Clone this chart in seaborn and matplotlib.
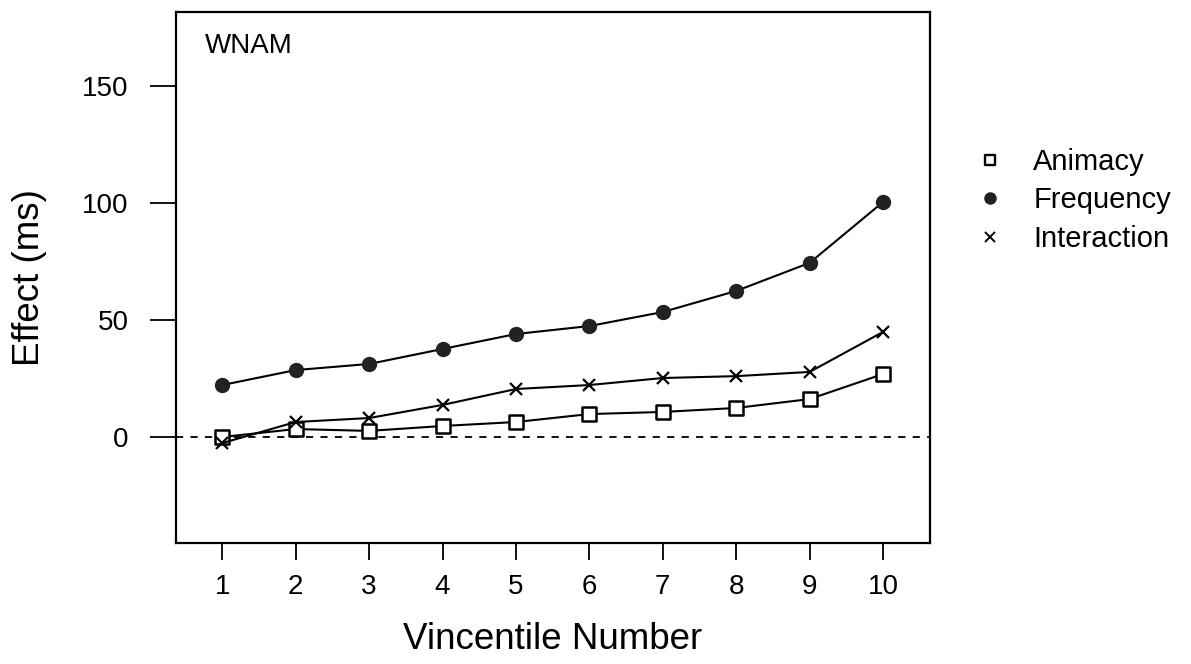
import numpy as np
import pandas as pd
import matplotlib
matplotlib.use("Agg")
import matplotlib.pyplot as plt
import seaborn as sns
from matplotlib.lines import Line2D
from matplotlib.markers import MarkerStyle

vincentiles = [1, 2, 3, 4, 5, 6, 7, 8, 9, 10]
animacy = [0.0, 3.4, 2.6, 4.7, 6.4, 9.8, 10.7, 12.4, 16.2, 26.9]
frequency = [22.2, 28.6, 31.2, 37.6, 44.0, 47.4, 53.4, 62.4, 74.4, 100.4]
interaction = [-2.6, 6.4, 8.1, 13.7, 20.5, 22.2, 25.2, 26.0, 27.8, 44.9]
series_names = ["Animacy", "Frequency", "Interaction"]
y_ticks = [0, 50, 100, 150]

sns.set_theme(style="ticks")
plt.rcParams["font.family"] = ["Liberation Sans", "DejaVu Sans"]
plt.rcParams["text.color"] = "black"
plt.rcParams["axes.labelcolor"] = "black"
plt.rcParams["xtick.color"] = "black"
plt.rcParams["ytick.color"] = "black"

df = pd.DataFrame({
    "Vincentile": vincentiles * 3,
    "Effect": animacy + frequency + interaction,
    "Series": np.repeat(series_names, len(vincentiles)),
})

fig = plt.figure(figsize=(11.91, 6.64), dpi=100)
ax = fig.add_axes([0.1478, 0.1822, 0.6331, 0.7998])

ax.axhline(0, color="black", lw=1.3, ls=(0, (4, 4)), zorder=1)

round_sq = MarkerStyle("s", joinstyle="round")
styles = {
    "Animacy": dict(marker=round_sq, mfc="white", mec="black", ms=9.5, mew=1.8),
    "Frequency": dict(marker="o", mfc="#222222", mec="#222222", ms=10, mew=1.0),
    "Interaction": dict(marker="x", mfc="none", mec="black", ms=9, mew=1.6),
}
for name in series_names:
    sub = df[df["Series"] == name]
    sns.lineplot(data=sub, x="Vincentile", y="Effect", ax=ax, color="black",
                 lw=1.5, legend=False, estimator=None, **styles[name], zorder=3)
for l in ax.lines:
    l.set_solid_joinstyle("round")

ax.set_xlim(0.37, 10.64)
ax.set_ylim(-45.3, 181.6)
ax.set_xticks(vincentiles)
ax.set_yticks(y_ticks)
ax.tick_params(axis="both", labelsize=20, width=1.3, direction="out", colors="black")
ax.tick_params(axis="x", length=12, pad=10)
ax.tick_params(axis="y", length=19, pad=15)
for s in ax.spines.values():
    s.set_linewidth(1.6)
    s.set_color("black")
ax.set_xlabel("Vincentile Number", fontsize=26.5, labelpad=16)
ax.set_ylabel("Effect (ms)", fontsize=26.5)
ax.yaxis.set_label_coords(-0.171, 0.5)
ax.text(0.038, 0.96, "WNAM", transform=ax.transAxes, fontsize=20, va="top", ha="left")

handles = [
    Line2D([], [], ls="none", marker=MarkerStyle("s", joinstyle="round"),
           mfc="white", mec="black", ms=7, mew=1.7),
    Line2D([], [], ls="none", marker="o", mfc="#222222", mec="#222222", ms=8),
    Line2D([], [], ls="none", marker="x", mec="black", ms=7, mew=1.4),
]
fig.legend(handles, series_names, loc="upper left", bbox_to_anchor=(0.7968, 0.817),
           frameon=False, fontsize=21, handletextpad=0.99, labelspacing=0.36,
           handlelength=1.0)

fig.savefig("out.png", dpi=100, facecolor="white")
